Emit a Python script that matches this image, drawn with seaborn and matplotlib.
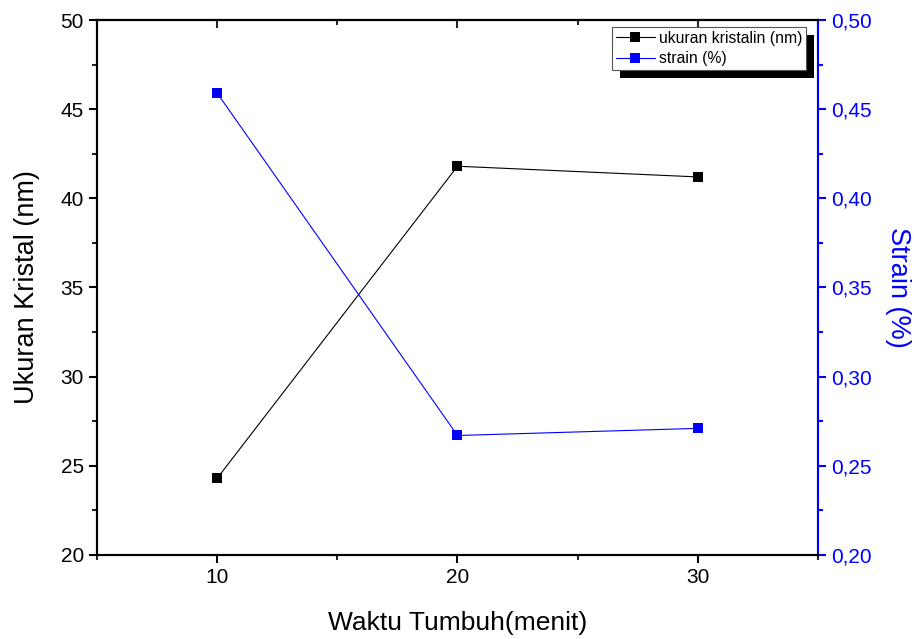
import matplotlib
matplotlib.use("Agg")
import matplotlib.pyplot as plt
import seaborn as sns
import pandas as pd
from matplotlib.ticker import MultipleLocator, FuncFormatter
from matplotlib.patches import Rectangle
from matplotlib.lines import Line2D

waktu = [10, 20, 30]
ukuran = [24.3, 41.8, 41.2]
strain = [0.459, 0.267, 0.271]

sns.set_style("ticks")
plt.rcParams['font.family'] = ['Liberation Sans', 'DejaVu Sans']
plt.rcParams['text.color'] = 'black'
plt.rcParams['axes.labelcolor'] = 'black'

fig = plt.figure(figsize=(9.22, 6.39), dpi=100)
ax = fig.add_axes([0.1052, 0.1315, 0.782, 0.8372])
ax2 = ax.twinx()

df = pd.DataFrame({"waktu": waktu, "ukuran": ukuran, "strain": strain})
sns.lineplot(data=df, x="waktu", y="ukuran", ax=ax, color="black", marker="s",
             markersize=7.5, markeredgewidth=0, linewidth=0.8, legend=False)
sns.lineplot(data=df, x="waktu", y="strain", ax=ax2, color="blue", marker="s",
             markersize=7.5, markeredgewidth=0, linewidth=0.8, legend=False)

ax.set_xlim(5, 35)
ax.set_ylim(20, 50)
ax2.set_ylim(0.20, 0.50)

ax.xaxis.set_major_locator(MultipleLocator(10))
ax.xaxis.set_minor_locator(MultipleLocator(5))
ax.yaxis.set_major_locator(MultipleLocator(5))
ax.yaxis.set_minor_locator(MultipleLocator(2.5))
ax2.yaxis.set_major_locator(MultipleLocator(0.05))
ax2.yaxis.set_minor_locator(MultipleLocator(0.025))
ax2.yaxis.set_major_formatter(FuncFormatter(lambda v, p: f"{v:.2f}".replace(".", ",")))

for a in (ax, ax2):
    for s in a.spines.values():
        s.set_linewidth(1.5)
        s.set_color("black")
ax2.spines["right"].set_color("blue")

ax.tick_params(axis="both", which="major", direction="out", length=6, width=1.5,
               labelsize=15, colors="black")
ax.tick_params(axis="both", which="minor", direction="out", length=3.5, width=1.5)
ax2.tick_params(axis="y", which="major", direction="out", length=6, width=1.5,
                labelsize=15, colors="blue")
ax2.tick_params(axis="y", which="minor", direction="out", length=3.5, width=1.5, colors="blue")

# top inward ticks via secondary axis
top = ax.secondary_xaxis("top")
top.xaxis.set_major_locator(MultipleLocator(10))
top.xaxis.set_minor_locator(MultipleLocator(5))
top.tick_params(axis="x", which="major", direction="in", length=6, width=1.5, labeltop=False)
top.tick_params(axis="x", which="minor", direction="in", length=3.5, width=1.5)
top.spines["top"].set_linewidth(1.5)
ax.tick_params(axis="x", which="both", top=False)

ax.set_xlabel("Waktu Tumbuh(menit)", fontsize=19, labelpad=17, color="black")
ax.set_ylabel("Ukuran Kristal (nm)", fontsize=19.5, labelpad=15, color="black")
ax2.set_ylabel("Strain (%)", fontsize=19.5, color="blue", rotation=270, labelpad=28)

handles = [Line2D([], [], color="black", marker="s", markersize=7.5, markeredgewidth=0, linewidth=0.8),
           Line2D([], [], color="blue", marker="s", markersize=7.5, markeredgewidth=0, linewidth=0.8)]
leg = ax2.legend(handles, ["ukuran kristalin (nm)", "strain (%)"], loc="upper right",
                 bbox_to_anchor=(806 / 922, (639 - 27) / 639), bbox_transform=fig.transFigure,
                 fontsize=11.3, frameon=True, fancybox=False, framealpha=1,
                 edgecolor="#555555", borderpad=0.25, labelspacing=0.35,
                 handlelength=2.5, handletextpad=0.25, borderaxespad=0)
leg.get_frame().set_linewidth(0.8)
leg.set_zorder(10)
for t in leg.get_texts():
    t.set_color("black")

fig.canvas.draw()
bb = leg.get_window_extent()
off = 8
shadow = Rectangle((bb.x0 + off, bb.y0 - off), bb.width, bb.height,
                   transform=None, facecolor="black", edgecolor="none", zorder=9,
                   clip_on=False)
ax2.add_artist(shadow)

fig.savefig("out.png", dpi=100)
